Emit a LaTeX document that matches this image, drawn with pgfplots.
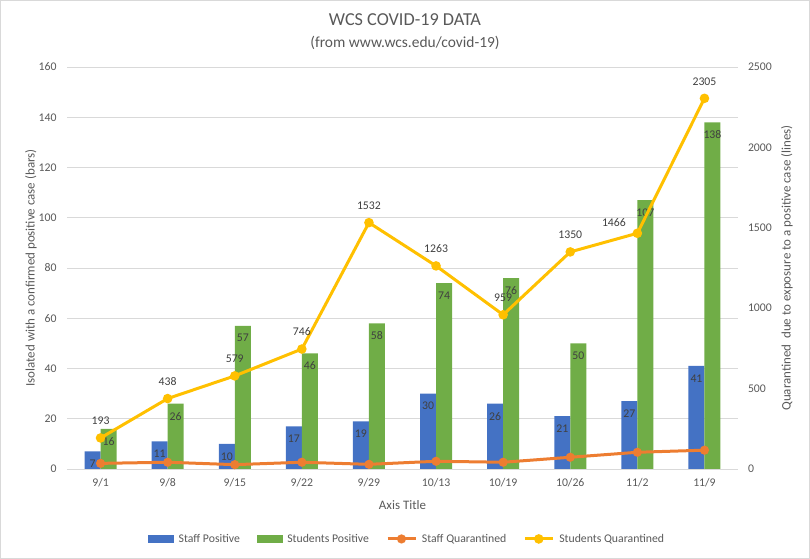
\documentclass[border=0pt]{standalone}
\usepackage{fontspec}
\setmainfont{Carlito}
\usepackage{pgfplots}
\pgfplotsset{compat=1.18}
\definecolor{cblue}{HTML}{4472C4}
\definecolor{cgreen}{HTML}{70AD47}
\definecolor{corange}{HTML}{ED7D31}
\definecolor{cyellow}{HTML}{FFC000}
\definecolor{ctext}{HTML}{595959}
\definecolor{clabel}{HTML}{404040}
\definecolor{cgrid}{HTML}{D9D9D9}
\pgfplotsset{
  linelegend/.style={legend image code/.code={\draw[##1, mark repeat=2, mark phase=2] plot coordinates {(0bp,0bp)(14bp,0bp)(28bp,0bp)};}},
  bluelegend/.style={legend image code/.code={\fill[cblue] (0bp,-3.5bp) rectangle (25bp,3.5bp);}},
  greenlegend/.style={legend image code/.code={\fill[cgreen] (0bp,-3.5bp) rectangle (25bp,3.5bp);}},
}
\begin{document}
\begin{tikzpicture}[x=1bp,y=1bp]
\useasboundingbox (0,0) rectangle (810,559);
\draw[cgrid] (0.5,0.5) rectangle (809.5,558.5);
\node[text=ctext, font=\fontsize{18.3}{22}\selectfont] at (405,539) {WCS COVID-19 DATA};
\node[text=ctext, font=\fontsize{15.5}{18}\selectfont] at (405,516) {(from www.wcs.edu/covid-19)};

\begin{axis}[
  at={(67bp,90bp)}, anchor=south west, scale only axis,
  width=671bp, height=402bp,
  xmin=-0.5, xmax=9.5, ymin=0, ymax=160,
  ytick={0,20,...,160},
  xtick={0,...,9},
  xticklabels={9/1,9/8,9/15,9/22,9/29,10/13,10/19,10/26,11/2,11/9},
  axis x line*=bottom, axis y line*=left,
  axis line style={draw=none},
  tick style={draw=none},
  ymajorgrids, major grid style={cgrid, line width=0.9bp},
  /pgf/number format/assume math mode=true,
  ticklabel style={text=ctext, font=\fontsize{11.8}{14}\selectfont},
  yticklabel style={anchor=east, xshift=-7bp},
  xticklabel style={anchor=north, yshift=-2bp},
  ylabel={Isolated with a confirmed positive case (bars)},
  every axis y label/.style={at={(axis description cs:-0.0537,0.5)}, rotate=90, anchor=center,
     text=ctext, font=\fontsize{13}{15}\selectfont},
  xlabel={Axis Title},
  every axis x label/.style={at={(axis description cs:0.5,-0.0896)}, anchor=center,
     text=ctext, font=\fontsize{13}{15}\selectfont},
  ybar=0pt, bar width=16bp,
  nodes near coords,
  every node near coord/.append style={anchor=north, yshift=-5bp, text=clabel,
     font=\fontsize{11.8}{14}\selectfont},
]
\addplot[fill=cblue, draw=none] coordinates {(0,7)(1,11)(2,10)(3,17)(4,19)(5,30)(6,26)(7,21)(8,27)(9,41)};
\addplot[fill=cgreen, draw=none] coordinates {(0,16)(1,26)(2,57)(3,46)(4,58)(5,74)(6,76)(7,50)(8,107)(9,138)};
\end{axis}

\begin{axis}[
  at={(67bp,90bp)}, anchor=south west, scale only axis,
  width=671bp, height=402bp,
  xmin=-0.5, xmax=9.5, ymin=0, ymax=2500,
  ytick={0,500,...,2500},
  axis x line=none, axis y line*=right,
  axis line style={draw=none},
  tick style={draw=none},
  /pgf/number format/assume math mode=true,
  /pgf/number format/1000 sep={},
  ticklabel style={text=ctext, font=\fontsize{11.8}{14}\selectfont},
  yticklabel style={anchor=west, xshift=6.5bp},
  ylabel={Quarantined\ \ due to exposure to a positive case (lines)},
  every axis y label/.style={at={(axis description cs:1.073,0.5)}, rotate=90, anchor=center,
     text=ctext, font=\fontsize{13}{15}\selectfont},
  legend columns=4,
  legend style={at={(0.507,-0.174)}, anchor=center, draw=none, fill=none,
     text=ctext, font=\fontsize{11.8}{14}\selectfont,
     /tikz/every odd column/.append style={column sep=3bp},
     /tikz/every even column/.append style={column sep=15bp}},
]
\addlegendimage{bluelegend}
\addlegendentry{Staff Positive}
\addlegendimage{greenlegend}
\addlegendentry{Students Positive}
\addplot[corange, line width=3bp, mark=*, mark size=3bp, linelegend]
  coordinates {(0,35)(1,42)(2,27)(3,42)(4,29)(5,48)(6,42)(7,73)(8,104)(9,117)};
\addlegendentry{Staff Quarantined}
\addplot[cyellow, line width=3bp, mark=*, mark size=3.2bp, linelegend]
  coordinates {(0,193)(1,438)(2,579)(3,746)(4,1532)(5,1263)(6,959)(7,1350)(8,1466)(9,2305)};
\addlegendentry{Students Quarantined}
\addplot[draw=none, mark=none, forget plot, nodes near coords,
  every node near coord/.style={anchor=south, yshift=9.5bp, text=clabel, font=\fontsize{11.8}{14}\selectfont}]
  coordinates {(0,193)(1,438)(2,579)(3,746)(4,1532)(5,1263)(6,959)(7,1350)(9,2305)};
\addplot[draw=none, mark=none, forget plot, nodes near coords,
  every node near coord/.style={anchor=east, xshift=-8bp, yshift=11bp, text=clabel, font=\fontsize{11.8}{14}\selectfont}]
  coordinates {(8,1466)};
\end{axis}
\end{tikzpicture}
\end{document}
